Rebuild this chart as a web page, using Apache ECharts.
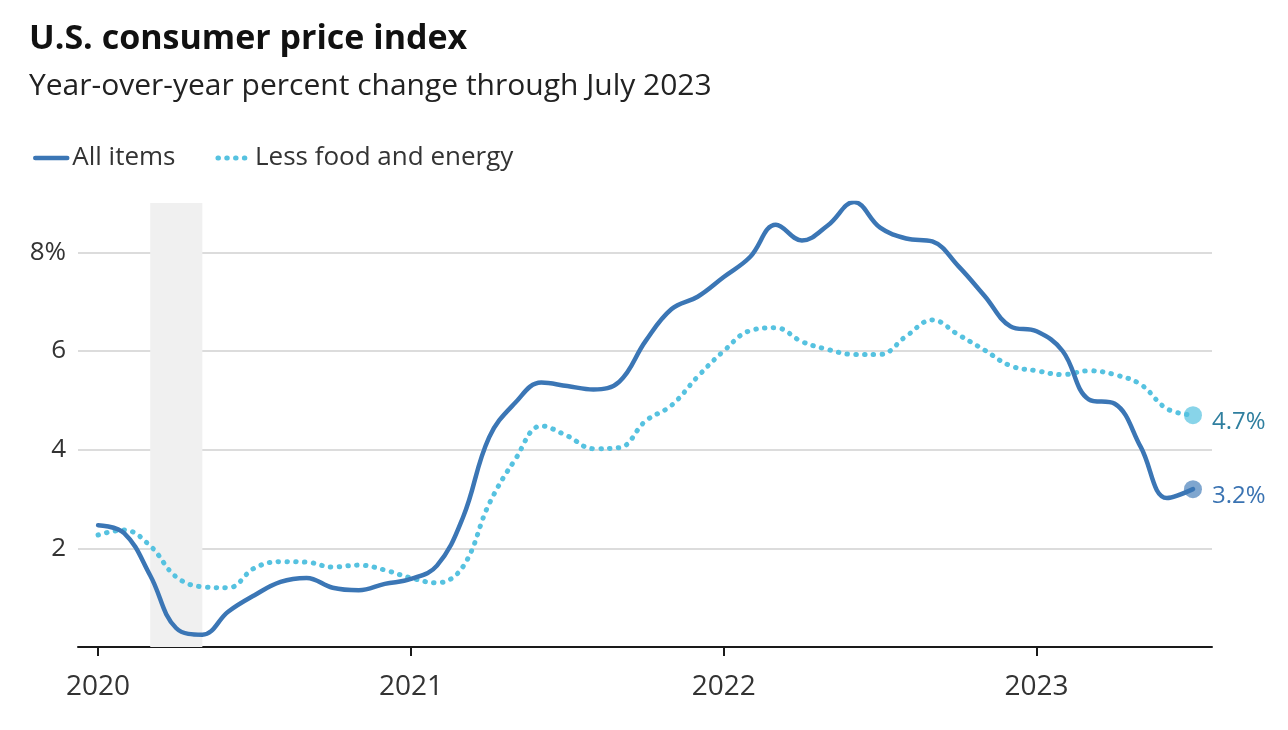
<!DOCTYPE html>
<html><head><meta charset="utf-8">
<script src="https://cdn.jsdelivr.net/npm/echarts@6/dist/echarts.min.js"></script>
<style>html,body{margin:0;padding:0;background:#fff}#c{width:1288px;height:730px}</style>
</head><body><div id="c"></div>
<script>
// Monthly, Jan 2020 .. Jul 2023 (month index 0..42)
const allItems = [
  2.47, 2.31, 1.45, 0.38, 0.25, 0.72, 1.05, 1.32, 1.40, 1.20, 1.15, 1.28,
  1.38, 1.65, 2.63, 4.25, 4.95, 5.36, 5.29, 5.22, 5.38, 6.20, 6.85, 7.10,
  7.50, 7.90, 8.56, 8.24, 8.55, 9.02, 8.50, 8.28, 8.22, 7.72, 7.12, 6.50,
  6.40, 6.00, 5.02, 4.93, 4.05, 3.02, 3.20
];
const lessFoodEnergy = [
  2.27, 2.37, 2.05, 1.42, 1.22, 1.20, 1.60, 1.73, 1.72, 1.62, 1.66, 1.56,
  1.40, 1.30, 1.63, 2.90, 3.80, 4.48, 4.28, 4.02, 4.04, 4.58, 4.90, 5.48,
  6.00, 6.41, 6.47, 6.19, 6.03, 5.93, 5.93, 6.30, 6.63, 6.33, 6.02, 5.70,
  5.60, 5.52, 5.60, 5.52, 5.32, 4.83, 4.70
];
const yearTickIdx = [0, 12, 24, 36];
const yearLabels = ['2020', '2021', '2022', '2023'];
const recessionIdx = [2, 4];   // Mar 2020 .. May 2020
const seriesNames = ['All items', 'Less food and energy'];

const FONT = '"Open Sans", Lato, sans-serif';
const C_ALL = '#3b76b5', C_CORE = '#56c2e0';

const pts = arr => arr.map((v, i) => [i, v]);
const last = arr => [[arr.length - 1, arr[arr.length - 1]]];

const chart = echarts.init(document.getElementById('c'), null, { renderer: 'canvas' });
chart.setOption({
  animation: false,
  backgroundColor: '#fff',
  title: {
    text: 'U.S. consumer price index',
    subtext: 'Year-over-year percent change through July 2023',
    left: 29, top: 22, padding: 0, itemGap: 15,
    textStyle: { fontFamily: FONT, fontSize: 34, fontWeight: 'bold', color: '#111' },
    subtextStyle: { fontFamily: FONT, fontSize: 30, color: '#222' }
  },
  legend: {
    left: 28, top: 140,
    itemWidth: 32, itemHeight: 14, itemGap: 40,
    textStyle: { fontFamily: FONT, fontSize: 26, color: '#333' },
    data: [
      { name: seriesNames[0], lineStyle: { width: 4.5 }, itemStyle: { opacity: 0 } },
      { name: seriesNames[1], lineStyle: { width: 5 }, itemStyle: { opacity: 0 } }
    ]
  },
  grid: { left: 78, right: 76, top: 203, bottom: 83, containLabel: false },
  xAxis: {
    type: 'value', min: -0.77, max: 42.73,
    axisLine: { show: true, lineStyle: { color: '#1a1a1a', width: 2 } },
    axisTick: { show: true, customValues: yearTickIdx, length: 9, lineStyle: { color: '#1a1a1a', width: 2 } },
    axisLabel: {
      customValues: yearTickIdx, margin: 26,
      formatter: v => yearLabels[yearTickIdx.indexOf(Math.round(v))] || '',
      fontFamily: FONT, fontSize: 28, color: '#333'
    },
    splitLine: { show: false }
  },
  yAxis: {
    type: 'value', min: 0, max: 9, interval: 2,
    axisLine: { show: false }, axisTick: { show: false },
    axisLabel: {
      margin: 12, fontFamily: FONT, fontSize: 26, color: '#333',
      formatter: v => (v === 8 ? '8%' : (v === 0 || v === 9 ? '' : String(v)))
    },
    splitLine: { show: true, showMinLine: false, showMaxLine: false, lineStyle: { color: '#d0d0d0', width: 1.5 } }
  },
  series: [
    {
      name: 'recession', type: 'line', data: [], z: -1, silent: true,
      markArea: { silent: true, itemStyle: { color: '#f0f0f0' },
        data: [[{ xAxis: recessionIdx[0] }, { xAxis: recessionIdx[1] }]] }
    },
    {
      name: seriesNames[1], type: 'line', z: 3,
      data: pts(lessFoodEnergy),
      smooth: 0.4, symbol: 'none',
      itemStyle: { color: C_CORE },
      lineStyle: { color: C_CORE, width: 5, type: [0.5, 8.3], cap: 'round' },
      endLabel: { show: true, distance: 19, offset: [0, 7], formatter: p => p.value[1].toFixed(1) + '%',
        fontFamily: FONT, fontSize: 24, color: '#2f7f9f' },
      emphasis: { disabled: true }
    },
    {
      name: seriesNames[0], type: 'line', z: 4,
      data: pts(allItems),
      smooth: 0.4, symbol: 'none',
      itemStyle: { color: C_ALL },
      lineStyle: { color: C_ALL, width: 4.5, cap: 'round', join: 'round' },
      endLabel: { show: true, distance: 19, offset: [0, 7], formatter: p => p.value[1].toFixed(1) + '%',
        fontFamily: FONT, fontSize: 24, color: '#3a73b2' },
      emphasis: { disabled: true }
    },
    {
      name: 'coreEnd', type: 'scatter', z: 5, silent: true,
      data: last(lessFoodEnergy), symbolSize: 18,
      itemStyle: { color: C_CORE, opacity: 0.7 }
    },
    {
      name: 'allEnd', type: 'scatter', z: 5, silent: true,
      data: last(allItems), symbolSize: 18,
      itemStyle: { color: C_ALL, opacity: 0.65 }
    }
  ]
});
</script>
</body></html>
